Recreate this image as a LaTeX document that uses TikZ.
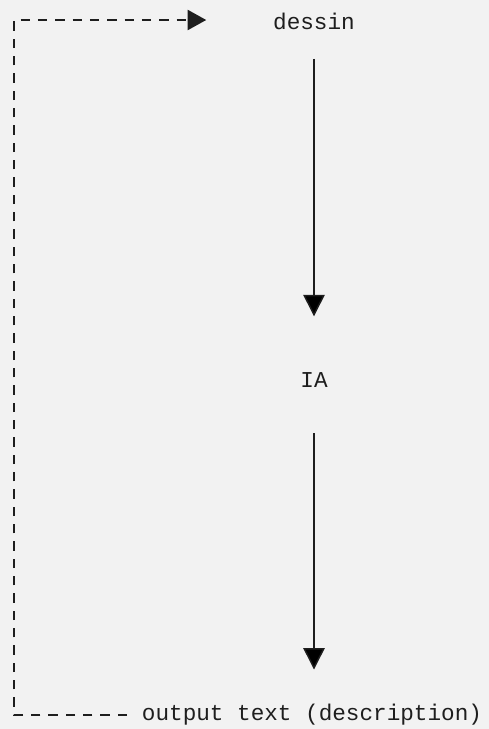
\documentclass[tikz,border=0pt]{standalone}
\usepackage{fontspec}
\setmonofont{Liberation Mono}
\usetikzlibrary{arrows.meta,positioning}
\definecolor{paper}{HTML}{F2F2F2}
\definecolor{ink}{HTML}{1E1E1E}

\begin{document}
\begin{tikzpicture}[x=0.75pt,y=-0.75pt,
    lbl/.style={font=\ttfamily\fontsize{17}{20}\selectfont, inner sep=0pt, text=ink},
    flow/.style={draw=ink, line width=1.1pt, -{Triangle[length=16pt,width=16pt]}},
    loop/.style={draw=ink, line width=1.8pt, dash pattern=on 7pt off 6pt, -{Triangle[length=14pt,width=15pt]}}]
        \fill[paper] (0,0) rectangle (489,729);
        \node[lbl] at (314,21) (dessin) {dessin};
        \node[lbl] at (314,380) (ia) {IA};
        \node[lbl] at (312,715) (out) {output text (description)};
        \coordinate (bl) at (14,715);
        \coordinate (tl) at (14,20);
        \path[flow]
        (dessin) edge [shorten <=22pt, shorten >=42pt] (ia)
        (ia) edge [shorten <=34pt, shorten >=26pt] (ia |- out.north);
        \draw[loop, shorten <=11pt, shorten >=50pt] (out.west) -- (bl) -- (tl) -- (tl -| dessin.west);
    \end{tikzpicture}
\end{document}
